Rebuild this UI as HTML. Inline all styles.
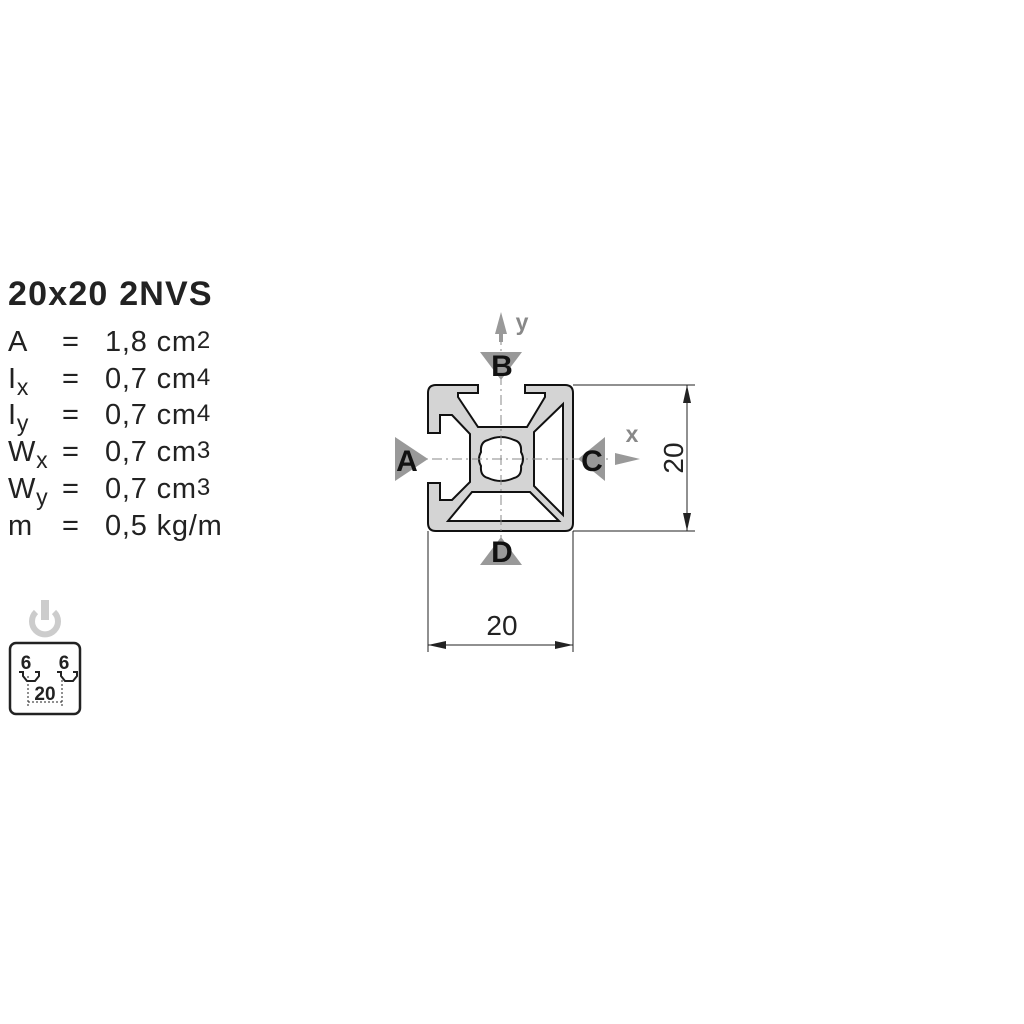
<!DOCTYPE html>
<html><head><style>
body{margin:0;background:#fff;width:1024px;height:1024px;overflow:hidden;position:relative;font-family:"Liberation Sans",sans-serif;color:#222}
.t{position:absolute;font-size:29px;line-height:1;white-space:nowrap;letter-spacing:0.8px}
</style></head><body>
<div class="t" style="left:8px;top:277px;font-weight:bold;font-size:34px;letter-spacing:1.2px">20x20 2NVS</div>
<div class="t" style="left:8px;top:328px">A</div><div class="t" style="left:62px;top:328px">=</div><div class="t" style="left:105px;top:328px">1,8 cm<span style="font-size:24px;vertical-align:3px">2</span></div>
<div class="t" style="left:8px;top:365px">I<span style="font-size:23px;vertical-align:-7px">x</span></div><div class="t" style="left:62px;top:365px">=</div><div class="t" style="left:105px;top:365px">0,7 cm<span style="font-size:24px;vertical-align:3px">4</span></div>
<div class="t" style="left:8px;top:401px">I<span style="font-size:23px;vertical-align:-7px">y</span></div><div class="t" style="left:62px;top:401px">=</div><div class="t" style="left:105px;top:401px">0,7 cm<span style="font-size:24px;vertical-align:3px">4</span></div>
<div class="t" style="left:8px;top:438px">W<span style="font-size:23px;vertical-align:-7px">x</span></div><div class="t" style="left:62px;top:438px">=</div><div class="t" style="left:105px;top:438px">0,7 cm<span style="font-size:24px;vertical-align:3px">3</span></div>
<div class="t" style="left:8px;top:475px">W<span style="font-size:23px;vertical-align:-7px">y</span></div><div class="t" style="left:62px;top:475px">=</div><div class="t" style="left:105px;top:475px">0,7 cm<span style="font-size:24px;vertical-align:3px">3</span></div>
<div class="t" style="left:8px;top:512px">m</div><div class="t" style="left:62px;top:512px">=</div><div class="t" style="left:105px;top:512px">0,5 kg/m</div>

<svg width="1024" height="1024" style="position:absolute;left:0;top:0" font-family="Liberation Sans, sans-serif">
<g fill="none" stroke="#ccc" stroke-width="6"><path d="M36,612 A13,13 0 1 0 54,612"/></g>
<rect x="41" y="600" width="8" height="20" fill="#ccc"/>
<rect x="10" y="643" width="70" height="71" rx="6" fill="none" stroke="#222" stroke-width="2.5"/>
<text x="26" y="669" font-size="19" font-weight="bold" text-anchor="middle" fill="#222">6</text>
<text x="64" y="669" font-size="19" font-weight="bold" text-anchor="middle" fill="#222">6</text>
<path d="M19,672 h4 v4 l4,5 h8 l4,-5 v-4 h-4 M57,672 h4 v4 l4,5 h8 l4,-5 v-4 h-4" fill="none" stroke="#222" stroke-width="2"/>
<text x="45" y="700" font-size="19" font-weight="bold" text-anchor="middle" fill="#222">20</text>
<path d="M28,676 v30 M62,676 v30 M28,702 h34" stroke="#222" stroke-width="1" stroke-dasharray="2,2"/>

<path fill="#d4d4d4" stroke="#111" stroke-width="2" fill-rule="evenodd" d="
M525,385 L565,385 Q573,385 573,393 L573,523 Q573,531 565,531 L436,531 Q428,531 428,523 L428,483 L440,483 L440,500 L452,500 L470,482 L470,434 L452,415 L440,415 L440,433 L428,433 L428,393 Q428,385 436,385 L478,385 L478,393 L458,393 L458,397 L478,427 L527,427 L545,397 L545,393 L525,393 Z
M563,404 L563,515 L534,486 L534,432 Z
M448,521 L559,521 L530,492 L472,492 Z
M488,440 Q501,434 514,440 Q522,442 521,452 Q525,459 521,466 Q522,476 514,478 Q501,484 488,478 Q480,476 481,466 Q477,459 481,452 Q480,442 488,440 Z"/>
<path d="M412,459 H612 M501,315 V562" stroke="#888" stroke-width="1" stroke-dasharray="10,4,2,4"/>
<g fill="#999">
<polygon points="501,312 495,334 507,334"/><rect x="499" y="332" width="4" height="10"/>
<polygon points="480,352 522,352 501,380"/>
<polygon points="395,437 395,481 428,459"/>
<polygon points="605,437 605,481 578,459"/>
<polygon points="640,459 615,453 615,465"/>
<polygon points="480,565 522,565 501,537"/>
</g>
<text x="522" y="330" font-size="23" font-weight="bold" fill="#888" text-anchor="middle">y</text>
<text x="632" y="442" font-size="23" font-weight="bold" fill="#888" text-anchor="middle">x</text>
<g font-size="30" font-weight="bold" fill="#111" text-anchor="middle">
<text x="502" y="376">B</text><text x="407" y="471">A</text><text x="592" y="471">C</text><text x="502" y="562">D</text>
</g>
<g stroke="#222" stroke-width="1" fill="none">
<path d="M573,385 H695 M573,531 H695 M687,385 V531"/>
<path d="M428,531 V652 M573,531 V652 M428,645 H573"/>
</g>
<g fill="#222">
<polygon points="687,385 683,403 691,403"/><polygon points="687,531 683,513 691,513"/>
<polygon points="428,645 446,641 446,649"/><polygon points="573,645 555,641 555,649"/>
</g>
<text x="502" y="635" font-size="28" text-anchor="middle" fill="#222">20</text>
<text transform="translate(683,458) rotate(-90)" font-size="28" text-anchor="middle" fill="#222">20</text>
</svg>
</body></html>
